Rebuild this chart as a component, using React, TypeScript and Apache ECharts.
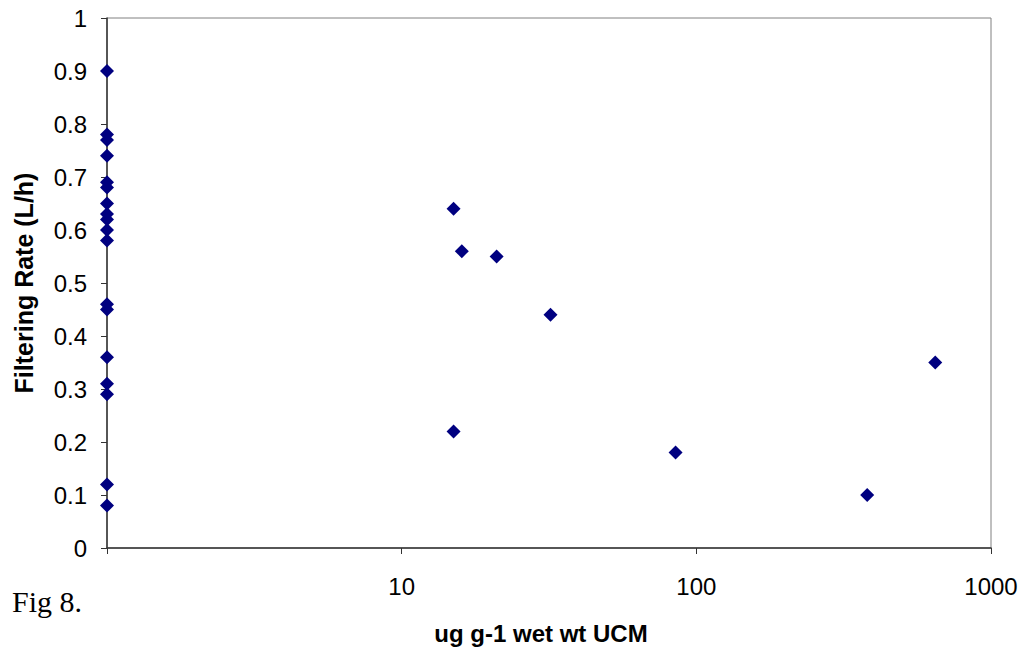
import React, { useEffect, useRef } from "react";
import * as echarts from "echarts";

// x = 1 represents samples plotted on the axis
const axisSampleRates = [0.9, 0.78, 0.77, 0.74, 0.69, 0.68, 0.65, 0.63, 0.62, 0.6, 0.58, 0.46, 0.45, 0.36, 0.31, 0.29, 0.12, 0.08];
const ucmValues = [15, 16, 21, 32, 15, 85, 380, 647];
const ucmRates = [0.64, 0.56, 0.55, 0.44, 0.22, 0.18, 0.1, 0.35];
const xTickLabels = ["10", "100", "1000"];
const yTicks = [0, 0.1, 0.2, 0.3, 0.4, 0.5, 0.6, 0.7, 0.8, 0.9, 1];

export default function App() {
  const ref = useRef<HTMLDivElement>(null);
  useEffect(() => {
    if (!ref.current) return;
    const chart = echarts.init(ref.current, null, { renderer: "svg" });
    const data: [number, number][] = [
      ...axisSampleRates.map((r) => [1, r] as [number, number]),
      ...ucmValues.map((v, i) => [v, ucmRates[i]] as [number, number]),
    ];
    chart.setOption({
      animation: false,
      backgroundColor: "#ffffff",
      grid: {
        left: 107,
        top: 18,
        right: 36,
        bottom: 105,
        show: true,
        borderColor: "#808080",
        borderWidth: 1,
        backgroundColor: "transparent",
      },
      xAxis: {
        type: "log",
        logBase: 10,
        min: 1,
        max: 1000,
        axisLine: { show: true, lineStyle: { color: "#333333", width: 1.5 } },
        axisTick: { show: true, length: 6, lineStyle: { color: "#333333" } },
        minorTick: { show: false },
        splitLine: { show: false },
        axisLabel: {
          margin: 26,
          fontSize: 24,
          color: "#000000",
          fontFamily: "Liberation Sans, Arial",
          formatter: (v: number) => {
            const s = String(Math.round(v));
            return xTickLabels.includes(s) ? s : "";
          },
        },
      },
      yAxis: {
        type: "value",
        min: 0,
        max: 1,
        interval: 0.1,
        axisLine: { show: true, lineStyle: { color: "#333333", width: 1.5 } },
        axisTick: { show: true, length: 6, lineStyle: { color: "#333333" } },
        splitLine: { show: false },
        axisLabel: {
          margin: 20,
          fontSize: 24,
          color: "#000000",
          fontFamily: "Liberation Sans, Arial",
          formatter: (v: number) => {
            const t = yTicks.find((y) => Math.abs(y - v) < 1e-6);
            return t === undefined ? "" : String(t);
          },
        },
      },
      series: [
        {
          type: "scatter",
          data,
          symbol: "diamond",
          symbolSize: 14,
          clip: false,
          itemStyle: { color: "#000080", opacity: 1 },
        },
      ],
      graphic: [
        {
          type: "text",
          x: 24,
          y: 283,
          rotation: Math.PI / 2,
          style: {
            text: "Filtering Rate (L/h)",
            fontSize: 25,
            fontWeight: "bold",
            fontFamily: "Liberation Sans, Arial",
            fill: "#000000",
            align: "center",
            verticalAlign: "middle",
          },
        },
        {
          type: "text",
          x: 541,
          y: 633,
          style: {
            text: "ug g-1 wet wt UCM",
            fontSize: 24,
            fontWeight: "bold",
            fontFamily: "Liberation Sans, Arial",
            fill: "#000000",
            align: "center",
            verticalAlign: "middle",
          },
        },
        {
          type: "text",
          x: 12,
          y: 601,
          style: {
            text: "Fig 8.",
            fontSize: 30,
            fontFamily: "Liberation Serif, Times New Roman",
            fill: "#000000",
            align: "left",
            verticalAlign: "middle",
          },
        },
      ],
    });
    return () => chart.dispose();
  }, []);
  return (
    <div
      ref={ref}
      style={{ position: "absolute", left: 0, top: 0, width: 1027, height: 653 }}
    />
  );
}
